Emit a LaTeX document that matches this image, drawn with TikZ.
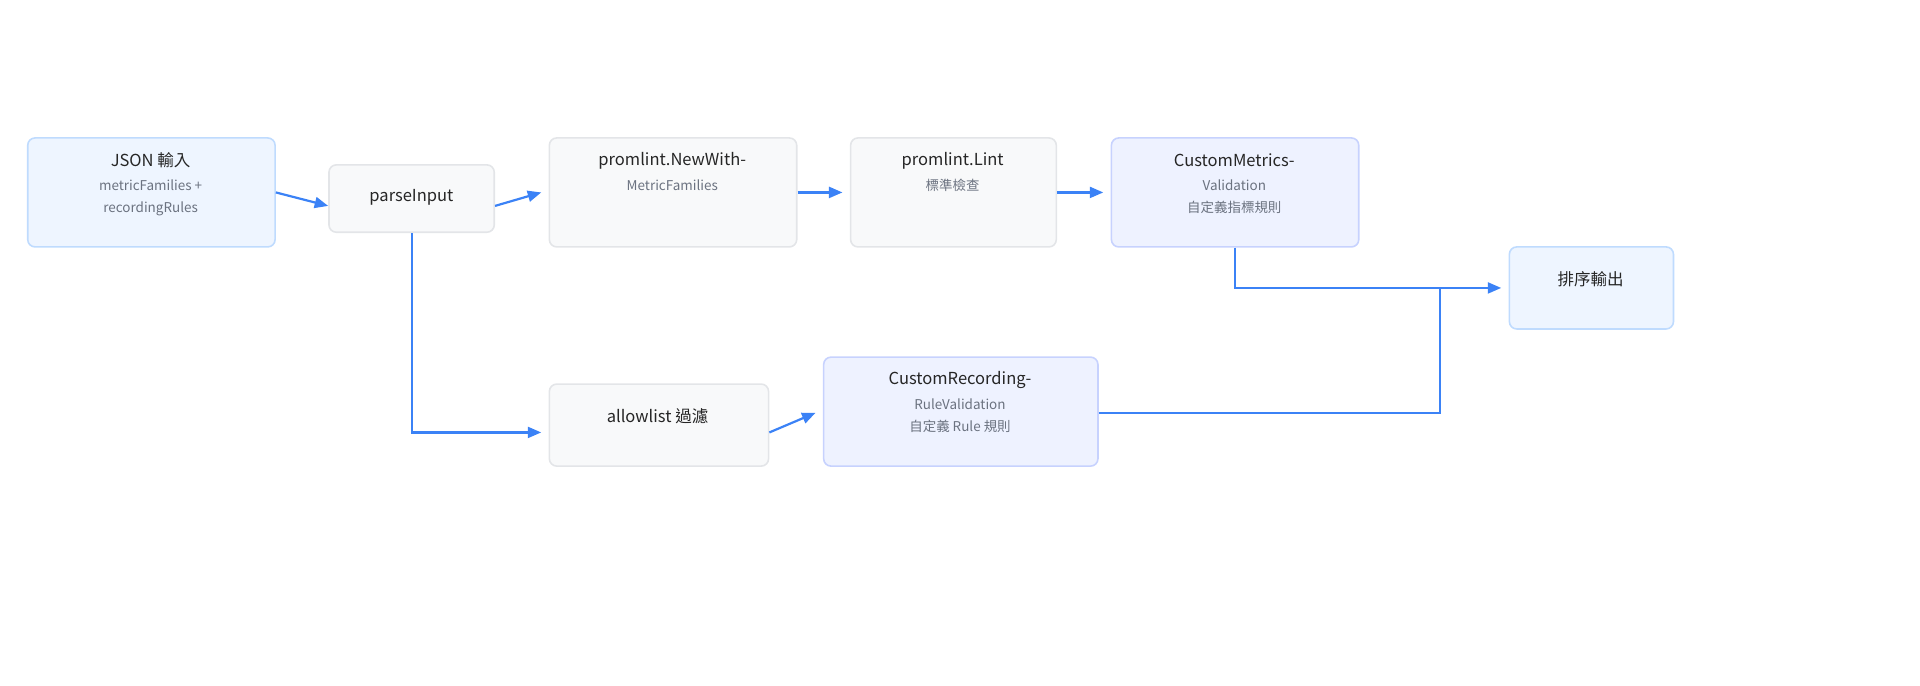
\documentclass[tikz,border=0pt]{standalone}
\usepackage{fontspec}
\setmainfont{Noto Sans CJK TC}
\usetikzlibrary{arrows.meta}
\definecolor{bluef}{HTML}{EEF5FF}\definecolor{blued}{HTML}{BFDBFE}
\definecolor{grayf}{HTML}{F8F9FA}\definecolor{grayd}{HTML}{E3E5E8}
\definecolor{indf}{HTML}{EEF2FF}\definecolor{indd}{HTML}{C7D2FE}
\definecolor{arr}{HTML}{3B82F6}\definecolor{sub}{HTML}{6B7280}
\begin{document}
\begin{tikzpicture}[x=1pt,y=-1pt,
  box/.style={rounded corners=6pt,line width=1.3pt,inner sep=0pt,anchor=north west},
  bl/.style={box,fill=bluef,draw=blued},
  gr/.style={box,fill=grayf,draw=grayd},
  ind/.style={box,fill=indf,draw=indd},
  ttl/.style={font=\fontsize{13.5}{16}\selectfont,text=black!85,anchor=center},
  sb/.style={font=\fontsize{11}{18}\selectfont,text=sub,align=center,anchor=north},
  ar/.style={draw=arr,line width=1.8pt,-{Triangle[length=11pt,width=9pt]}}]
\useasboundingbox (0,0) rectangle (1568,560);
\node[bl,minimum width=202pt,minimum height=89pt] (json) at (22,112) {};
\node[gr,minimum width=135pt,minimum height=55pt] (parse) at (268,134) {};
\node[gr,minimum width=202pt,minimum height=89pt] (nw) at (448,112) {};
\node[gr,minimum width=168pt,minimum height=89pt] (lint) at (694,112) {};
\node[ind,minimum width=202pt,minimum height=89pt] (cm) at (907,112) {};
\node[bl,minimum width=134pt,minimum height=67pt] (out) at (1232,201) {};
\node[gr,minimum width=179pt,minimum height=67pt] (allow) at (448,313) {};
\node[ind,minimum width=224pt,minimum height=89pt] (cr) at (672,291) {};
\node[ttl] (t1) at (123,131) {JSON 輸入};
\node[sb] (s1) at (123,143) {metricFamilies +\\recordingRules};
\node[ttl] (t2) at (336,161) {parseInput};
\node[ttl] (t3) at (549,131) {promlint.NewWith-};
\node[sb] (s3) at (549,143) {MetricFamilies};
\node[ttl] (t4) at (778,131) {promlint.Lint};
\node[sb] (s4) at (778,143) {標準檢查};
\node[ttl] (t5) at (1008,131) {CustomMetrics-};
\node[sb] (s5) at (1008,143) {Validation\\自定義指標規則};
\node[ttl] (t6) at (1299,228) {排序輸出};
\node[ttl] (t7) at (537,340) {allowlist 過濾};
\node[ttl] (t8) at (784,310) {CustomRecording-};
\node[sb] (s8) at (784,322) {RuleValidation\\自定義 Rule 規則};
\coordinate (j1) at (1176,235);
\draw[ar] (json.east) -- ([yshift=-6pt]parse.west);
\draw[ar] ([yshift=-6pt]parse.east) -- ([xshift=-6pt]nw.west);
\draw[ar] (nw.east) -- ([xshift=-6pt]lint.west);
\draw[ar] (lint.east) -- ([xshift=-6pt]cm.west);
\draw[ar] (cm.south) |- ([xshift=-6pt]out.west);
\draw[ar] (parse.south) |- ([xshift=-6pt,yshift=-6pt]allow.west);
\draw[ar] ([yshift=-6pt]allow.east) -- ([xshift=-6pt,yshift=-1pt]cr.west);
\draw[draw=arr,line width=1.8pt] ([yshift=-1pt]cr.east) -| (j1);
\end{tikzpicture}
\end{document}
